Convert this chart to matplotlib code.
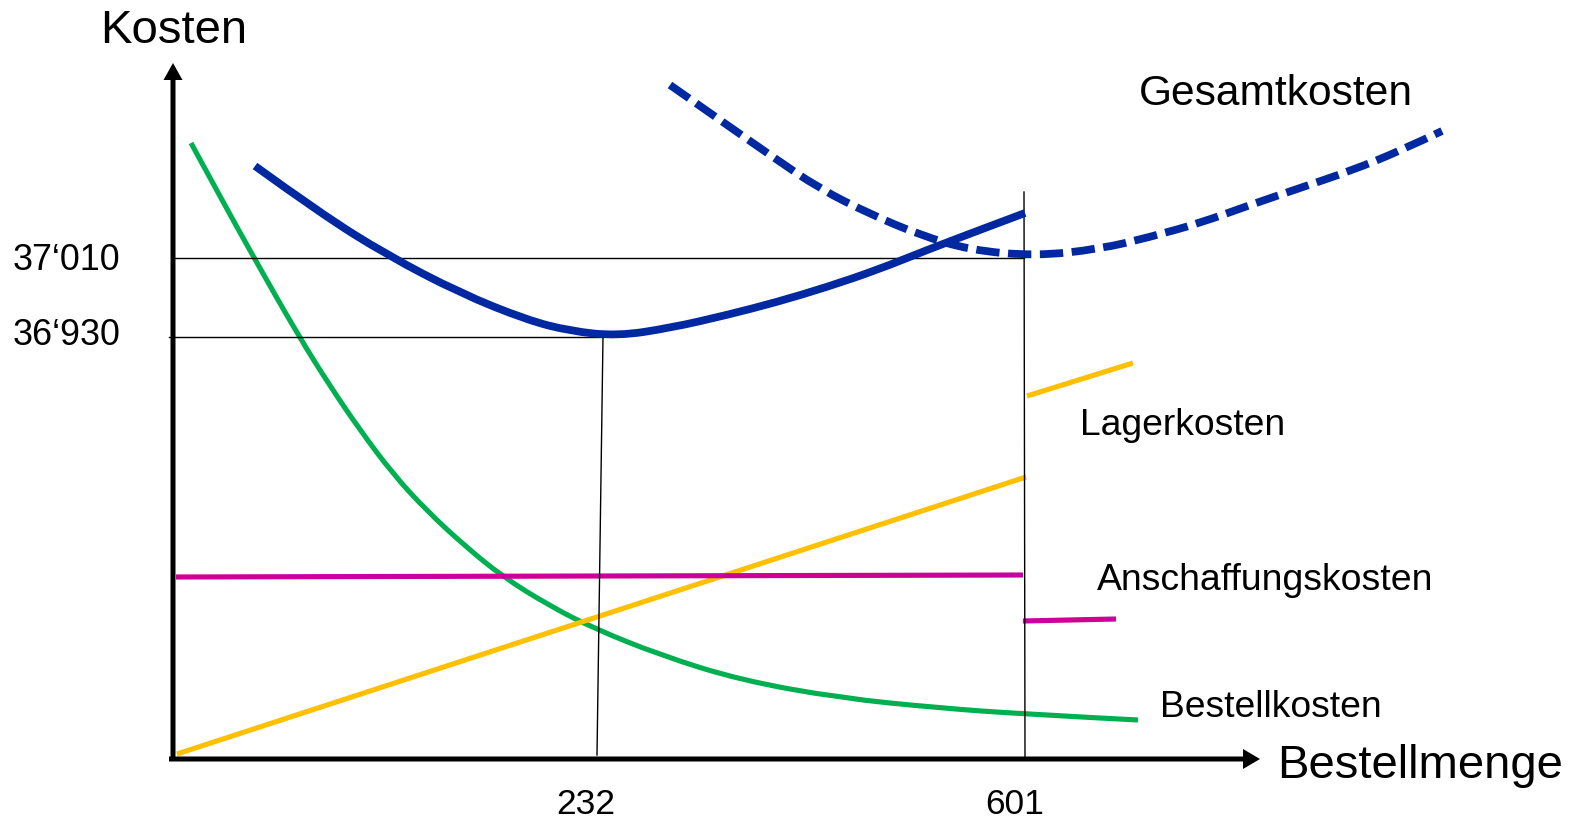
import matplotlib.pyplot as plt
from matplotlib.path import Path
from matplotlib.patches import PathPatch

plt.rcParams['font.family'] = ['Liberation Sans', 'DejaVu Sans']

# schematic units: origin of the axes at (0, 0), x = Bestellmenge, y = Kosten
# Gesamtkosten (solid, up to 601)
gesamt_x = [82, 147, 214, 287, 354, 397, 444, 497, 554, 604, 654, 704, 754, 804, 852]
gesamt_y = [593, 546, 504, 466, 439, 428, 423, 431, 444, 457, 472, 489, 509, 528, 546]

# Gesamtkosten with higher order quantity (dashed)
gesamt2_x = [497, 547, 597, 647, 697, 747, 797, 862, 927, 977, 1027, 1077, 1127, 1177, 1227, 1269]
gesamt2_y = [674, 639, 604, 570, 545, 524, 509, 503, 510, 522, 536, 554, 571, 588, 608, 628]

# Bestellkosten
bestell_x = [18, 49, 80, 125, 157, 187, 220, 254, 292, 330, 377, 420, 487, 567, 667, 767, 850, 965]
bestell_y = [616, 559, 503, 424, 373, 329, 285, 248, 213, 182, 153, 131, 104, 79, 61, 51, 45, 39]

# Lagerkosten
lager_x = [4, 853]
lager_y = [5, 282]
lager2_x = [854, 960]
lager2_y = [363, 396]

# Anschaffungskosten
anschaff_x = [3, 850]
anschaff_y = [182, 184]
anschaff2_x = [850, 943]
anschaff2_y = [138, 140]

# optimum markers
q_opt = [430, 424]       # vertical line at 232 (top, bottom)
q_601 = [851, 852]
k_opt = 422              # 36'930
k_601 = 501              # 37'010

blue = '#0028A0'
green = '#00B050'
yellow = '#FFC000'
magenta = '#CC0099'


def smooth(ax, xs, ys, **kw):
    # quadratic bezier through the read points (points used as control points)
    pts = list(zip(xs, ys))
    verts = [pts[0]]
    codes = [Path.MOVETO]
    for i in range(1, len(pts) - 1):
        nxt = pts[i + 1] if i == len(pts) - 2 else ((pts[i][0] + pts[i + 1][0]) / 2,
                                                   (pts[i][1] + pts[i + 1][1]) / 2)
        verts += [pts[i], nxt]
        codes += [Path.CURVE3, Path.CURVE3]
    ax.add_patch(PathPatch(Path(verts, codes), fill=False, **kw))


fig = plt.figure(figsize=(15.78, 8.19), dpi=100)
ax = fig.add_axes([0, 0, 1, 1])
ax.set_xlim(-173, 1405)
ax.set_ylim(-60, 759)
ax.axis('off')

# colored cost curves
smooth(ax, bestell_x, bestell_y, edgecolor=green, lw=3.7, capstyle='butt', zorder=2)
ax.plot(lager_x, lager_y, color=yellow, lw=3.7, solid_capstyle='butt', zorder=2)
ax.plot(lager2_x, lager2_y, color=yellow, lw=3.7, solid_capstyle='butt', zorder=2)
ax.plot(anschaff_x, anschaff_y, color=magenta, lw=3.7, solid_capstyle='butt', zorder=2)
ax.plot(anschaff2_x, anschaff2_y, color=magenta, lw=3.7, solid_capstyle='butt', zorder=2)

# thin help lines
ax.plot([0, q_601[0]], [k_601, k_601], color='black', lw=1.0, zorder=3)
ax.plot([-4, q_opt[0]], [k_opt, k_opt], color='black', lw=1.0, zorder=3)
ax.plot(q_opt, [k_opt, 4], color='black', lw=1.0, zorder=3)
ax.plot(q_601, [567, 2], color='black', lw=1.0, zorder=3)

# total cost curves
smooth(ax, gesamt_x, gesamt_y, edgecolor=blue, lw=5.6, capstyle='butt', zorder=4)
smooth(ax, gesamt2_x, gesamt2_y, edgecolor=blue, lw=5.6, linestyle=(0, (3.0, 1.1)),
       capstyle='butt', zorder=4)

# axes with arrows
ax.arrow(-4, 0, 1091, 0, width=5, head_width=20, head_length=17,
         length_includes_head=True, color='black', lw=0, zorder=5)
ax.arrow(0, -2, 0, 698, width=5, head_width=19, head_length=17,
         length_includes_head=True, color='black', lw=0, zorder=5)

# texts
ax.text(-73, 716, 'Kosten', fontsize=34, va='baseline', ha='left')
ax.text(1104, -19, 'Bestellmenge', fontsize=34, va='baseline', ha='left')
ax.text(966, 654, 'Gesamtkosten', fontsize=30.6, va='baseline', ha='left')
ax.text(907, 324, 'Lagerkosten', fontsize=26.8, va='baseline', ha='left')
ax.text(924, 169, 'Anschaffungskosten', fontsize=26.9, va='baseline', ha='left')
ax.text(987, 42, 'Bestellkosten', fontsize=26.8, va='baseline', ha='left')
ax.text(-160, 489, '37\u2018010', fontsize=25.8, va='baseline', ha='left')
ax.text(-160, 414, '36\u2018930', fontsize=25.8, va='baseline', ha='left')
ax.text(383, -55, '232', fontsize=25.5, va='baseline', ha='left')
ax.text(812, -55, '601', fontsize=25.5, va='baseline', ha='left')

fig.savefig('out.png', dpi=100)
